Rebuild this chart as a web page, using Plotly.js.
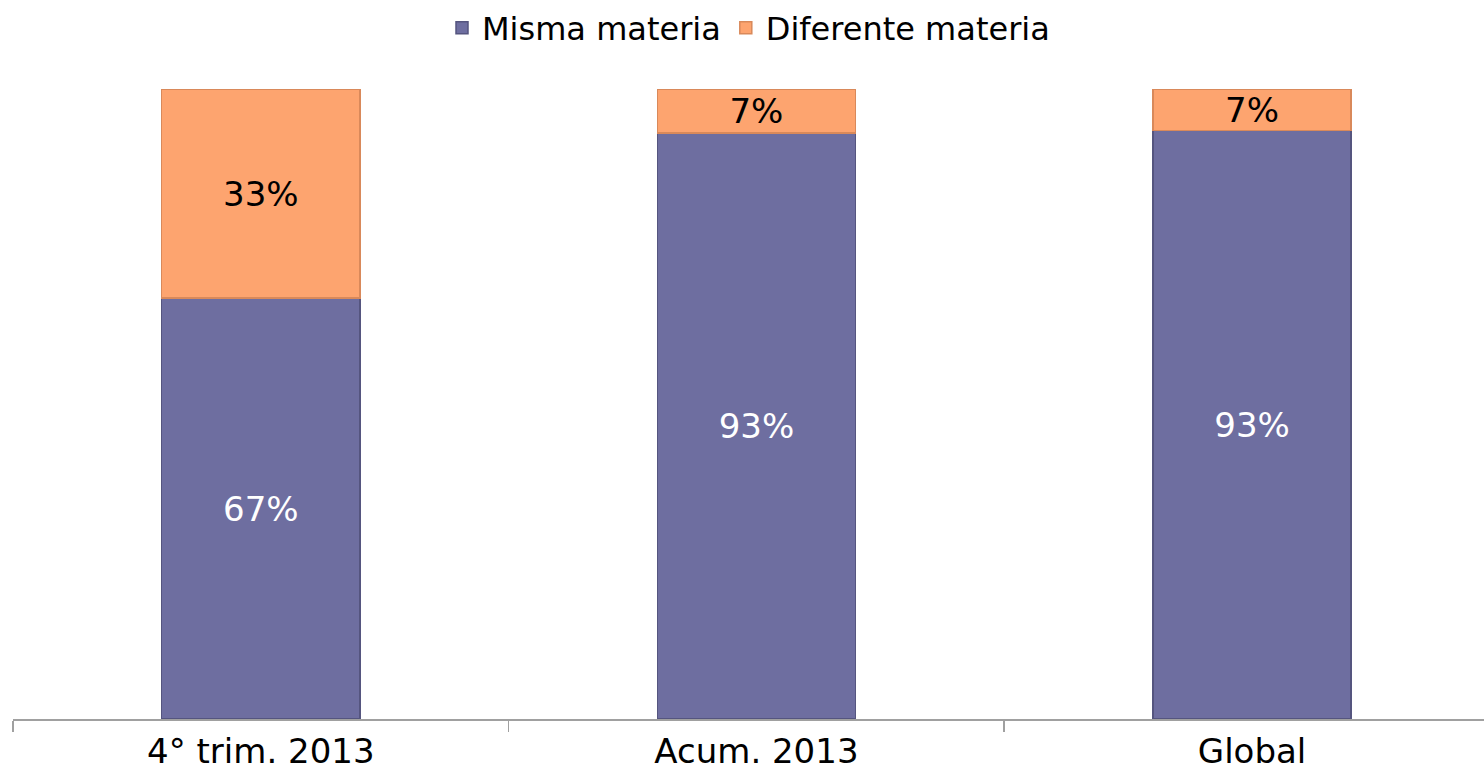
<!DOCTYPE html>
<html>
<head>
<meta charset="utf-8">
<script src="https://cdn.plot.ly/plotly-3.0.1.min.js"></script>
<style>html,body{margin:0;padding:0;background:#fff;}#chart{width:1484px;height:775px;}</style>
</head>
<body>
<div id="chart"></div>
<script>
const categories = ["4° trim. 2013", "Acum. 2013", "Global"];
const mismaMateria = [66.8, 93.0, 93.4];
const diferenteMateria = [33.2, 7.0, 6.6];
const seriesNames = ["Misma materia", "Diferente materia"];

const font = "DejaVu Sans, Verdana, sans-serif";

const traces = [
  {
    type: "bar", name: seriesNames[0], x: categories, y: mismaMateria,
    marker: {color: "#6e6ea0", line: {color: "#55557f", width: 1.5}},
    texttemplate: "%{y:.0f}%", textposition: "inside", insidetextanchor: "middle",
    constraintext: "none",
    textfont: {family: font, size: 34, color: "#ffffff"},
    hoverinfo: "skip"
  },
  {
    type: "bar", name: seriesNames[1], x: categories, y: diferenteMateria,
    marker: {color: "#fda46f", line: {color: "#d9895a", width: 1.5}},
    texttemplate: "%{y:.0f}%", textposition: "inside", insidetextanchor: "middle",
    constraintext: "none",
    textfont: {family: font, size: 34, color: "#000000"},
    hoverinfo: "skip"
  }
];

const layout = {
  width: 1484, height: 775,
  margin: {l: 13, r: 0, t: 89, b: 56, autoexpand: false},
  paper_bgcolor: "#ffffff", plot_bgcolor: "#ffffff",
  barmode: "stack", bargap: 0.6,
  font: {family: font, size: 32, color: "#000000"},
  showlegend: true,
  legend: {orientation: "h", x: 0.5, xanchor: "center", xref: "paper",
           y: 0.964, yanchor: "middle", yref: "container",
           font: {family: font, size: 32, color: "#000000"}, traceorder: "normal"},
  xaxis: {
    type: "category", range: [-0.5, 2.468],
    showline: true, linecolor: "#a0a0a0", linewidth: 1.5,
    ticks: "outside", tickson: "boundaries", ticklen: 11, tickcolor: "#a0a0a0", tickwidth: 1.5,
    tickfont: {family: font, size: 34, color: "#000000"},
    ticklabelstandoff: 2,
    showgrid: false, zeroline: false, fixedrange: true, automargin: false
  },
  yaxis: {
    range: [0, 100], visible: false, showgrid: false, zeroline: false, fixedrange: true
  }
};

Plotly.newPlot("chart", traces, layout, {displayModeBar: false, staticPlot: true});
</script>
</body>
</html>
